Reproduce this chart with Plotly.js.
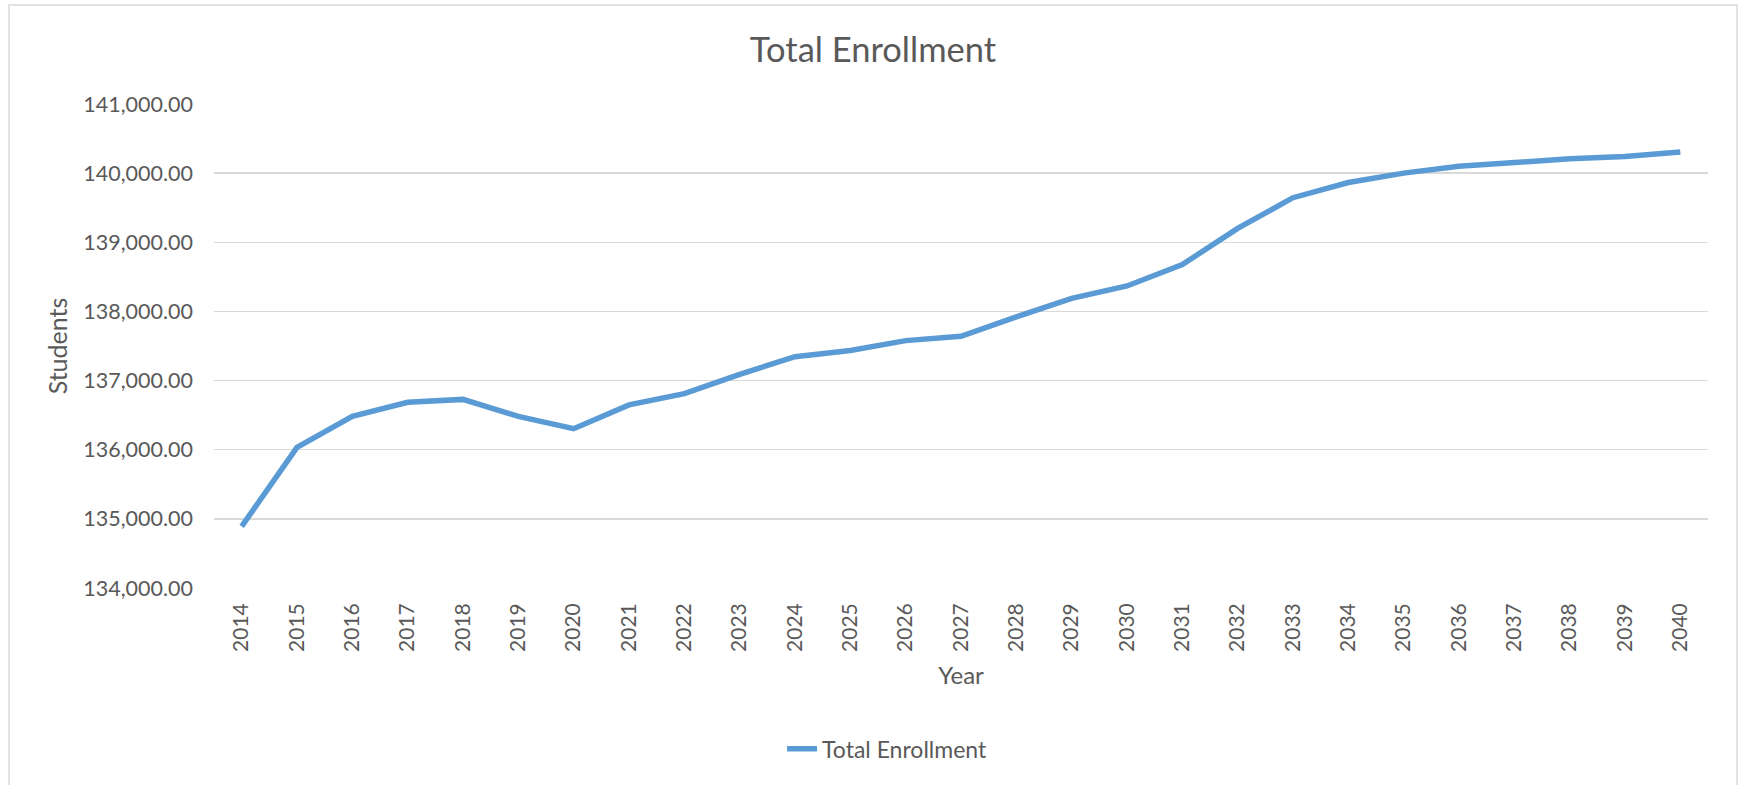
<!DOCTYPE html>
<html>
<head>
<meta charset="utf-8">
<script src="https://cdn.plot.ly/plotly-3.0.1.min.js"></script>
<style>
  html, body { margin: 0; padding: 0; background: #ffffff; }
  #chart { width: 1739px; height: 785px; }
</style>
</head>
<body>
<div id="chart"></div>
<script>
// Data
const years = ["2014","2015","2016","2017","2018","2019","2020","2021","2022","2023","2024","2025","2026",
               "2027","2028","2029","2030","2031","2032","2033","2034","2035","2036","2037","2038","2039","2040"];
const totalEnrollment = [134892, 136033, 136482, 136686, 136728, 136482, 136304, 136648, 136812, 137090, 137345,
                         137436, 137578, 137641, 137922, 138190, 138368, 138678, 139200, 139645, 139865, 140000,
                         140100, 140160, 140207, 140241, 140306];
const seriesName = "Total Enrollment";
const chartTitle = "Total Enrollment";
const xTitle = "Year";
const yTitle = "Students";

const textColor = "#595959";
const gridColor = "#d9d9d9";
const lineColor = "#5b9bd5";
const fontFamily = "Lato, 'Open Sans', sans-serif";

const trace = {
  x: years,
  y: totalEnrollment,
  type: "scatter",
  mode: "lines",
  name: seriesName,
  line: { color: lineColor, width: 5.5 },
  hoverinfo: "x+y"
};

const layout = {
  width: 1739,
  height: 785,
  margin: { l: 214, r: 31, t: 104, b: 197 },
  paper_bgcolor: "#ffffff",
  plot_bgcolor: "#ffffff",
  font: { family: fontFamily, color: textColor, size: 21 },
  title: {
    text: chartTitle,
    font: { family: fontFamily, size: 34.5, color: textColor },
    x: 0.502, xref: "container", xanchor: "center",
    y: 0.936, yref: "container", yanchor: "middle"
  },
  xaxis: {
    type: "category",
    range: [-0.5, 26.5],
    showgrid: false,
    zeroline: false,
    showline: false,
    ticks: "",
    tickangle: -90,
    ticklabelstandoff: 10,
    tickfont: { family: fontFamily, size: 21, color: textColor },
    title: { text: xTitle, font: { family: fontFamily, size: 24, color: textColor }, standoff: 16 },
    automargin: false
  },
  yaxis: {
    range: [134000, 141000],
    dtick: 1000,
    tick0: 134000,
    tickformat: ",.2f",
    showgrid: true,
    gridcolor: gridColor,
    gridwidth: 1.5,
    zeroline: false,
    showline: false,
    ticks: "",
    ticklabelstandoff: 20,
    tickfont: { family: fontFamily, size: 21.5, color: textColor },
    title: { text: yTitle, font: { family: fontFamily, size: 25, color: textColor }, standoff: 8 },
    automargin: false
  },
  showlegend: true,
  legend: {
    orientation: "h",
    x: 0.4505, xanchor: "center",
    y: -0.332, yanchor: "middle",
    font: { family: fontFamily, size: 23, color: textColor },
    bgcolor: "rgba(0,0,0,0)"
  },
  shapes: [{
    type: "rect",
    xref: "paper", yref: "paper",
    x0: (9 - 214) / 1494, x1: (1737 - 214) / 1494,
    y0: -0.45, y1: (588.3 - 5.3) / 484,
    line: { color: gridColor, width: 1.5 },
    fillcolor: "rgba(0,0,0,0)",
    layer: "below"
  }]
};

Plotly.newPlot("chart", [trace], layout, { displayModeBar: false, staticPlot: true });
</script>
</body>
</html>
